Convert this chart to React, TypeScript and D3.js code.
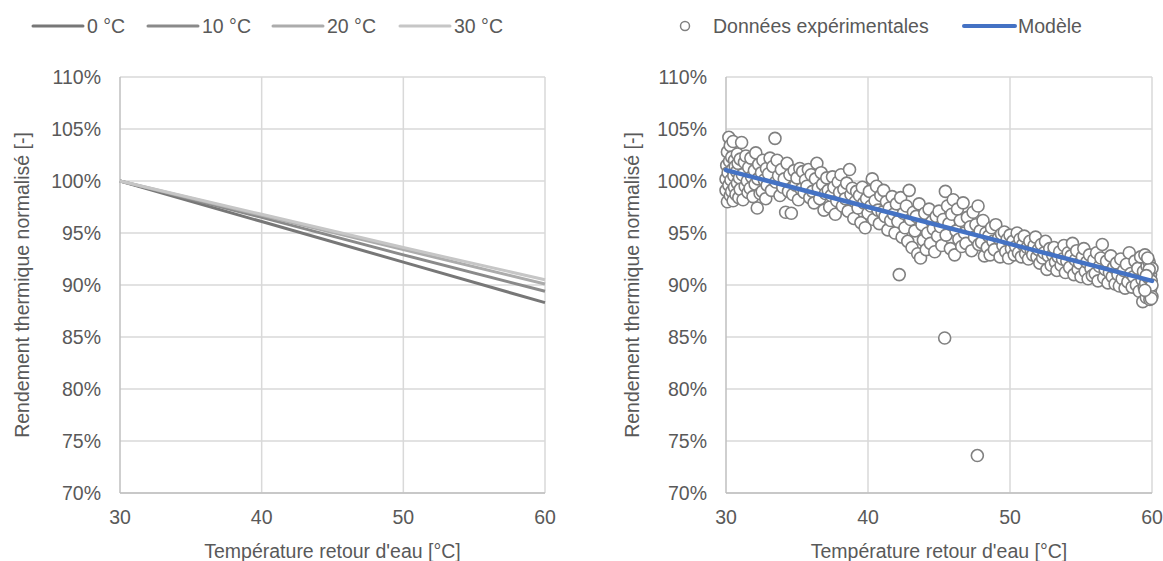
import React from "react";
import * as d3 from "d3";

const xTicks = [30, 40, 50, 60];
const yTicks = [0.7, 0.75, 0.8, 0.85, 0.9, 0.95, 1.0, 1.05, 1.1];

const tempSeriesNames = ["0 °C", "10 °C", "20 °C", "30 °C"];
const tempSeriesColors = ["#777777", "#8a8a8a", "#acacac", "#c6c6c6"];
const tempX = [30, 40, 50, 60];
const temp0 = [100, 96.1, 92.2, 88.3];
const temp10 = [100, 96.5, 92.9, 89.4];
const temp20 = [100, 96.7, 93.4, 90.1];
const temp30 = [100, 96.8, 93.6, 90.5];
const tempSeries = [temp0, temp10, temp20, temp30];

const modelX = [30, 40, 50, 60];
const modelY = [101.05, 97.5, 93.95, 90.4];

const expPoints: [number, number][] = [
  [30.0,100.2],[30.0,99.1],[30.05,101.5],[30.1,98.0],[30.1,102.8],[30.15,100.8],[30.2,104.2],[30.2,99.6],[30.25,101.9],[30.3,98.6],
  [30.3,103.4],[30.35,100.1],[30.4,102.3],[30.4,99.0],[30.45,101.1],[30.5,98.1],[30.5,103.8],[30.55,100.5],[30.6,102.0],[30.6,99.4],
  [30.65,101.4],[30.7,98.7],[30.75,100.9],[30.8,102.6],[30.8,99.8],[30.85,101.7],[30.9,98.4],[30.95,100.3],[31.0,102.1],[31.0,99.2],
  [31.1,103.7],[31.15,100.6],[31.2,98.2],[31.3,101.8],[31.35,99.5],[31.4,102.4],[31.5,100.0],[31.55,98.9],[31.6,101.3],[31.7,99.3],
  [31.75,102.2],[31.8,100.4],[31.9,98.5],[32.0,101.0],[32.05,99.7],[32.1,102.7],[32.2,97.4],[32.25,100.2],[32.3,101.6],[32.4,98.8],
  [32.5,100.8],[32.55,99.0],[32.6,102.0],[32.7,100.1],[32.8,98.3],[32.85,101.2],[32.9,99.6],[33.0,100.7],[33.1,102.2],[33.2,99.1],
  [33.3,101.4],[33.45,104.1],[33.5,99.9],[33.6,102.0],[33.7,100.5],[33.8,98.6],[33.9,101.1],[34.0,99.4],[34.1,100.2],[34.2,97.0],
  [34.3,101.7],[34.4,99.0],[34.5,100.6],[34.6,96.9],[34.7,98.7],[34.8,101.0],[34.9,99.6],[35.0,100.3],[35.1,98.2],[35.2,101.2],
  [35.3,99.2],[35.4,100.9],[35.5,98.9],[35.6,100.1],[35.7,99.5],[35.8,101.1],[35.9,98.4],[36.0,100.6],[36.1,99.0],[36.2,97.9],
  [36.3,100.2],[36.4,101.7],[36.5,99.3],[36.6,98.3],[36.7,100.8],[36.8,99.7],[36.9,97.2],[37.0,98.8],[37.1,100.3],[37.2,99.1],
  [37.3,97.5],[37.4,98.6],[37.5,100.4],[37.6,99.4],[37.7,96.8],[37.8,98.1],[37.9,99.9],[38.0,98.9],[38.1,100.6],[38.2,97.6],
  [38.3,99.2],[38.4,98.3],[38.5,99.8],[38.6,97.1],[38.7,101.1],[38.8,98.7],[38.9,99.3],[39.0,96.4],[39.1,98.0],[39.2,99.0],
  [39.3,97.4],[39.4,98.6],[39.5,96.0],[39.6,99.4],[39.7,97.9],[39.8,95.5],[39.9,98.3],[40.0,96.9],[40.1,99.0],[40.2,97.6],
  [40.3,100.2],[40.4,96.3],[40.5,98.1],[40.6,99.5],[40.7,97.2],[40.8,95.9],[40.9,98.6],[41.0,97.0],[41.1,99.1],[41.2,96.6],
  [41.3,98.0],[41.4,95.3],[41.5,97.4],[41.6,96.2],[41.7,98.5],[41.8,96.8],[41.9,95.0],[42.0,97.8],[42.1,96.1],[42.2,91.0],
  [42.3,98.4],[42.4,94.6],[42.5,96.9],[42.6,95.5],[42.7,97.6],[42.8,94.2],[42.9,99.1],[43.0,96.3],[43.1,93.6],[43.2,97.0],
  [43.3,95.2],[43.4,96.6],[43.5,93.0],[43.6,97.8],[43.7,92.6],[43.8,95.8],[43.9,94.3],[44.0,96.9],[44.1,93.4],[44.2,95.0],
  [44.3,97.3],[44.4,94.0],[44.5,96.1],[44.6,95.4],[44.7,93.2],[44.8,96.6],[44.9,94.7],[45.0,97.1],[45.1,95.6],[45.2,93.8],
  [45.3,96.3],[45.4,84.9],[45.45,99.0],[45.5,94.8],[45.6,97.6],[45.7,95.9],[45.8,93.5],[45.9,96.8],[46.0,98.2],[46.1,92.9],
  [46.2,95.2],[46.3,97.3],[46.4,94.4],[46.5,96.2],[46.6,93.7],[46.7,97.9],[46.8,95.0],[46.9,94.0],[47.0,96.5],[47.2,95.6],
  [47.3,93.3],[47.4,97.0],[47.5,94.6],[47.6,95.8],[47.7,73.6],[47.75,97.6],[47.8,93.9],[47.9,95.2],[48.0,94.1],[48.1,96.2],
  [48.2,92.8],[48.3,95.0],[48.4,93.6],[48.5,94.7],[48.6,92.9],[48.7,95.5],[48.8,94.2],[48.9,93.4],[49.0,95.8],[49.2,94.5],
  [49.3,92.7],[49.4,94.9],[49.5,93.8],[49.6,95.1],[49.7,93.2],[49.8,94.4],[49.9,92.6],[50.0,94.8],[50.1,93.5],[50.2,94.2],
  [50.3,92.9],[50.4,93.7],[50.5,95.0],[50.6,93.1],[50.7,94.4],[50.8,92.7],[50.9,93.9],[51.0,94.7],[51.1,93.0],[51.2,93.6],
  [51.3,92.5],[51.4,94.2],[51.5,93.3],[51.6,92.9],[51.7,93.8],[51.8,94.6],[51.9,92.7],[52.0,93.4],[52.1,92.1],[52.2,93.9],
  [52.3,92.6],[52.4,93.1],[52.5,94.2],[52.6,91.5],[52.7,92.8],[52.8,93.5],[52.9,91.9],[53.0,92.9],[53.1,93.6],[53.2,92.2],
  [53.3,91.4],[53.4,92.7],[53.5,93.2],[53.6,91.9],[53.7,92.5],[53.8,93.8],[53.9,91.2],[54.0,92.3],[54.1,93.1],[54.2,91.7],
  [54.3,92.8],[54.4,94.0],[54.5,91.0],[54.6,92.4],[54.7,93.3],[54.8,91.5],[54.9,92.1],[55.0,90.8],[55.1,92.7],[55.2,93.5],
  [55.3,91.3],[55.4,92.2],[55.5,90.6],[55.6,92.9],[55.7,91.6],[55.8,90.9],[55.9,92.4],[56.0,91.1],[56.1,93.1],[56.2,90.4],
  [56.3,91.8],[56.4,92.6],[56.5,93.9],[56.6,90.7],[56.7,91.5],[56.8,92.3],[56.9,90.2],[57.0,91.2],[57.1,92.8],[57.2,90.8],
  [57.3,91.7],[57.4,90.1],[57.5,92.1],[57.6,91.0],[57.7,89.9],[57.8,92.5],[57.9,90.6],[58.0,91.4],[58.1,89.7],[58.2,92.0],
  [58.3,90.3],[58.4,93.1],[58.5,91.1],[58.6,89.8],[58.7,90.8],[58.8,92.3],[58.9,90.0],[59.0,91.6],[59.1,89.4],[59.2,92.7],
  [59.3,90.5],[59.35,88.4],[59.4,91.3],[59.45,89.8],[59.5,92.9],[59.55,90.2],[59.6,88.8],[59.65,91.8],[59.7,89.3],[59.75,90.7],
  [59.8,92.2],[59.85,88.6],[59.9,91.0],[59.9,89.6],[59.95,90.4],[60.0,91.6],[60.0,88.9],[60.0,90.0],[59.8,91.5],[59.7,92.6],
  [59.95,88.7],[59.6,90.9],[59.5,89.5]
];

const xTitle = "Température retour d'eau [°C]";
const yTitle = "Rendement thermique normalisé [-]";

const FONT = "'Liberation Sans', Arial, sans-serif";
const TEXT = "#595959";
const GRID = "#d9d9d9";
const AXIS = "#bfbfbf";
const FS = 19.5;

function Frame({ x0, x1, y0, y1, xs, ys, titleX }: any) {
  return (
    <g>
      {yTicks.map((t) => (
        <line key={"gy" + t} x1={x0} x2={x1} y1={ys(t)} y2={ys(t)} stroke={GRID} strokeWidth={1.5} />
      ))}
      {xTicks.slice(1).map((t) => (
        <line key={"gx" + t} x1={xs(t)} x2={xs(t)} y1={y0} y2={y1} stroke={GRID} strokeWidth={1.5} />
      ))}
      <line x1={x0} x2={x0} y1={y0} y2={y1} stroke={AXIS} strokeWidth={1.5} />
      <line x1={x0} x2={x1} y1={y1} y2={y1} stroke={AXIS} strokeWidth={1.5} />
      {yTicks.map((t) => (
        <text key={"ty" + t} x={x0 - 19} y={ys(t)} dy="0.35em" textAnchor="end" fontSize={FS} fill={TEXT} fontFamily={FONT}>
          {d3.format(".0%")(t)}
        </text>
      ))}
      {xTicks.map((t) => (
        <text key={"tx" + t} x={xs(t)} y={y1 + 31} textAnchor="middle" fontSize={FS} fill={TEXT} fontFamily={FONT}>
          {t}
        </text>
      ))}
      <text x={(x0 + x1) / 2} y={y1 + 65} textAnchor="middle" fontSize={FS} fill={TEXT} fontFamily={FONT}>
        {xTitle}
      </text>
      <text transform={`translate(${titleX},${(y0 + y1) / 2}) rotate(-90)`} dy="0.35em" textAnchor="middle" fontSize={FS} fill={TEXT} fontFamily={FONT}>
        {yTitle}
      </text>
    </g>
  );
}

export default function App() {
  const y0 = 77, y1 = 493;
  const ys = d3.scaleLinear().domain([0.7, 1.1]).range([y1, y0]);
  const xsL = d3.scaleLinear().domain([30, 60]).range([120, 545]);
  const xsR = d3.scaleLinear().domain([30, 60]).range([726, 1152]);

  const lineL = d3.line<number>().x((_, i) => xsL(tempX[i])).y((v) => ys(v / 100));
  const lineM = d3.line<number>().x((_, i) => xsR(modelX[i])).y((v) => ys(v / 100));

  const legendL = [33, 148, 273, 400];

  return (
    <svg width={1163} height={561} style={{ position: "absolute", left: 0, top: 0, background: "#fff" }}>
      <rect width={1163} height={561} fill="#fff" />
      <Frame x0={120} x1={545} y0={y0} y1={y1} xs={xsL} ys={ys} titleX={22} />
      <Frame x0={726} x1={1152} y0={y0} y1={y1} xs={xsR} ys={ys} titleX={632} />

      {tempSeries.map((s, i) => (
        <path key={i} d={lineL(s) || ""} fill="none" stroke={tempSeriesColors[i]} strokeWidth={3} />
      ))}

      {expPoints.map(([x, y], i) => (
        <circle key={i} cx={xsR(x)} cy={ys(y / 100)} r={6} fill="#fff" stroke="#808080" strokeWidth={1.6} />
      ))}
      <path d={lineM(modelY) || ""} fill="none" stroke="#4472c4" strokeWidth={4.5} strokeLinecap="round" />

      {tempSeriesNames.map((n, i) => (
        <g key={n}>
          <line x1={legendL[i]} x2={legendL[i] + 50} y1={26} y2={26} stroke={tempSeriesColors[i]} strokeWidth={3} strokeLinecap="round" />
          <text x={legendL[i] + 54} y={26} dy="0.35em" fontSize={FS} fill={TEXT} fontFamily={FONT}>{n}</text>
        </g>
      ))}
      <circle cx={685} cy={26} r={4.5} fill="#fff" stroke="#808080" strokeWidth={1.5} />
      <text x={713} y={26} dy="0.35em" fontSize={FS} fill={TEXT} fontFamily={FONT}>Données expérimentales</text>
      <line x1={964} x2={1015} y1={26} y2={26} stroke="#4472c4" strokeWidth={4} strokeLinecap="round" />
      <text x={1018} y={26} dy="0.35em" fontSize={FS} fill={TEXT} fontFamily={FONT}>Modèle</text>
    </svg>
  );
}
